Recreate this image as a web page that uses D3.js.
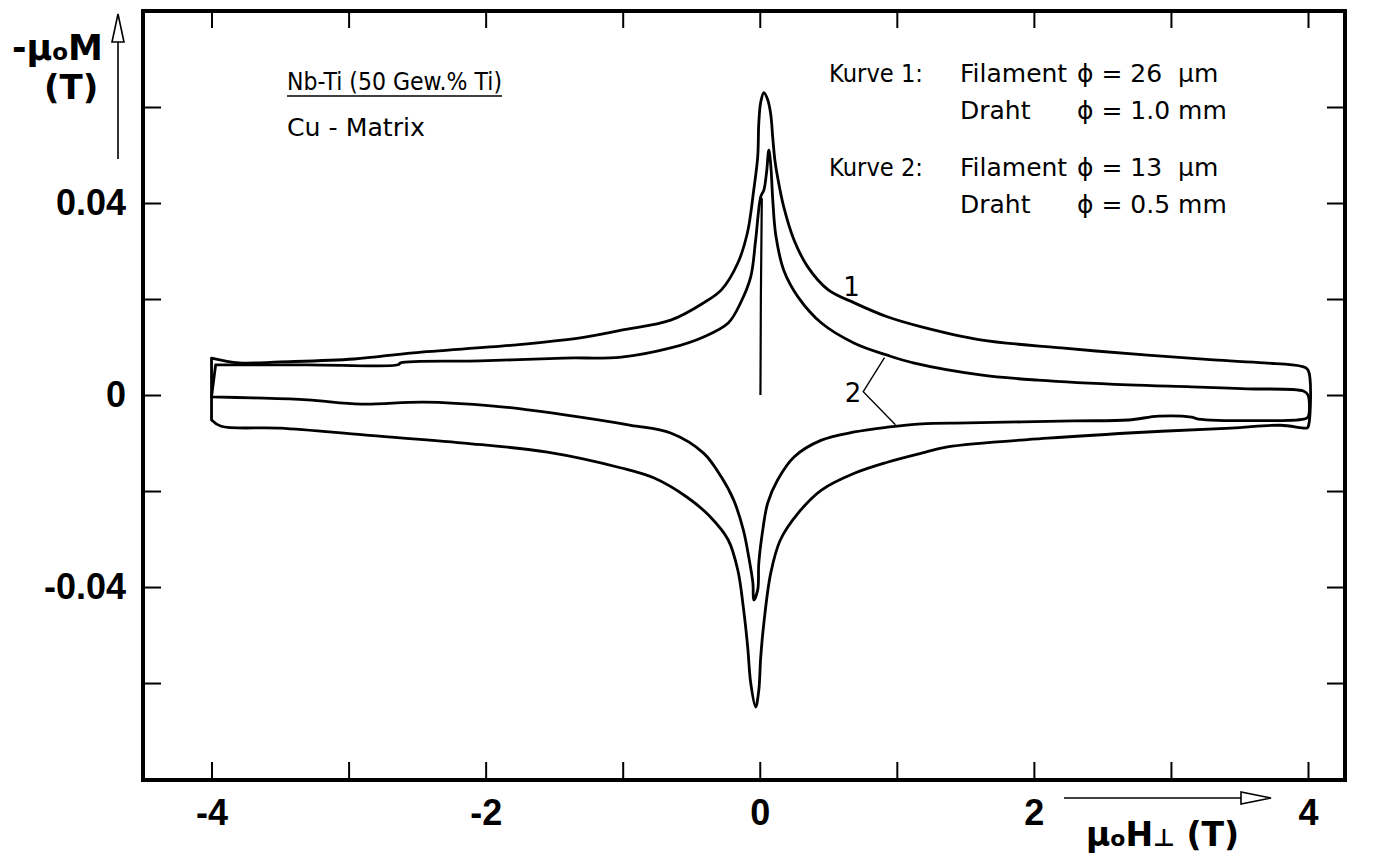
<!DOCTYPE html>
<html>
<head>
<meta charset="utf-8">
<script src="https://cdn.jsdelivr.net/npm/d3@7"></script>
<style>
body { margin: 0; background: #fff; }
svg { display: block; font-family: "DejaVu Sans", sans-serif; }
text { white-space: pre; }
</style>
</head>
<body>
<script>
// Magnetisation loops, values: [mu0H (T), -mu0M (T)]
var curve1Upper = [[-4.0, 0.0077], [-3.8, 0.0067], [-3.5, 0.0069], [-2.96, 0.0075], [-2.53, 0.0088], [-1.8, 0.0104],
  [-1.31, 0.0119], [-1.01, 0.0135], [-0.65, 0.0156], [-0.41, 0.0192], [-0.28, 0.0219], [-0.16, 0.0275],
  [-0.09, 0.0338], [-0.044, 0.0427], [-0.015, 0.0496], [-0.007, 0.0567], [0.007, 0.061], [0.03, 0.063],
  [0.058, 0.0615], [0.08, 0.0585], [0.095, 0.0535], [0.11, 0.049], [0.13, 0.0454], [0.175, 0.0392],
  [0.25, 0.0323], [0.35, 0.0267], [0.5, 0.0219], [0.69, 0.0192], [0.93, 0.0163], [1.18, 0.0142],
  [1.61, 0.0115], [2.2, 0.0098], [2.83, 0.0083], [3.31, 0.0073], [3.68, 0.0067], [3.95, 0.006], [4.0, 0.0052]];

var curve1Lower = [[-4.0, -0.0052], [-3.93, -0.0065], [-3.5, -0.0069], [-2.89, -0.0083], [-2.16, -0.01],
  [-1.55, -0.0119], [-1.01, -0.0152], [-0.77, -0.0173], [-0.53, -0.0213], [-0.36, -0.0254], [-0.23, -0.0302],
  [-0.16, -0.0365], [-0.12, -0.0442], [-0.088, -0.0525], [-0.066, -0.06], [-0.03, -0.065], [-0.007, -0.0615],
  [0.007, -0.0546], [0.03, -0.0475], [0.08, -0.0371], [0.15, -0.0302], [0.28, -0.0246], [0.45, -0.0198],
  [0.69, -0.0163], [0.93, -0.014], [1.18, -0.0121], [1.37, -0.0108], [2.1, -0.009], [2.83, -0.0077],
  [3.44, -0.0069], [3.8, -0.0063], [3.99, -0.0069], [4.0, -0.0067]];

var curve2Upper = [[-3.97, 0.0063], [-3.3, 0.0063], [-2.64, 0.0063], [-2.62, 0.0067], [-2.04, 0.0071],
  [-1.43, 0.0077], [-1.01, 0.0079], [-0.65, 0.0098], [-0.41, 0.0121], [-0.23, 0.015], [-0.14, 0.0192],
  [-0.066, 0.0246], [-0.03, 0.0323], [0.007, 0.0413], [0.03, 0.0427], [0.05, 0.0465], [0.066, 0.051],
  [0.08, 0.048], [0.095, 0.0406], [0.117, 0.0333], [0.175, 0.026], [0.28, 0.0204], [0.45, 0.015],
  [0.69, 0.0108], [0.93, 0.0083], [1.12, 0.0067], [1.61, 0.0042], [2.03, 0.0031], [2.69, 0.0021],
  [3.15, 0.0017], [3.56, 0.0013], [3.97, 0.0008], [4.0, 0.0]];

var curve2Lower = [[-4.0, -0.0004], [-3.7, -0.0006], [-3.3, -0.001], [-2.91, -0.0019], [-2.45, -0.0015],
  [-1.94, -0.0023], [-1.69, -0.0031], [-1.31, -0.0046], [-0.94, -0.0063], [-0.65, -0.0079], [-0.41, -0.0121],
  [-0.28, -0.0171], [-0.19, -0.0219], [-0.12, -0.0281], [-0.08, -0.0338], [-0.05, -0.0392], [-0.044, -0.0427],
  [-0.015, -0.0406], [-0.007, -0.035], [0.022, -0.0281], [0.058, -0.0225], [0.13, -0.0177], [0.25, -0.0129],
  [0.45, -0.0094], [0.69, -0.0077], [0.93, -0.0067], [1.18, -0.006], [1.52, -0.0058], [2.29, -0.0054],
  [2.69, -0.0052], [2.91, -0.0044], [3.15, -0.0046], [3.2, -0.005], [3.97, -0.005], [4.0, -0.0046]];

// initial (virgin) curve starting at zero field
var virginCurve = [[0.005, 0], [0.008, 0.02], [0.015, 0.041]];

var xTickValues = [-4, -3, -2, -1, 0, 1, 2, 3, 4];
var xTickLabels = [-4, -2, 0, 2, 4];
var yTickValues = [-0.06, -0.04, -0.02, 0, 0.02, 0.04, 0.06];
var yTickLabels = [-0.04, 0, 0.04];

var legendRows = [
  ["Kurve 1:", "Filament", "\u03d5 = 26  \u00b5m"],
  ["", "Draht", "\u03d5 = 1.0 mm"],
  ["Kurve 2:", "Filament", "\u03d5 = 13  \u00b5m"],
  ["", "Draht", "\u03d5 = 0.5 mm"]
];

// Set up size
var width = 1385;
var height = 857;
var margin = {top: 11, right: 40, bottom: 77, left: 143};

var x = d3.scaleLinear()
.domain([-4.5, 4.27])
.range([margin.left, width - margin.right]);

var y = d3.scaleLinear()
.domain([-0.0802, 0.08])
.range([height - margin.bottom, margin.top]);

var svg = d3.select('body').append('svg')
.attr('width', width)
.attr('height', height);

var line = d3.line()
.x(function(d) { return x(d[0]); })
.y(function(d) { return y(d[1]); });

var smoothLine = d3.line()
.curve(d3.curveCatmullRom.alpha(0.5))
.x(function(d) { return x(d[0]); })
.y(function(d) { return y(d[1]); });

// axes, ticks point inwards
function styleAxis(g) {
  g.select('.domain').remove();
  g.selectAll('.tick line').attr('stroke', '#000').attr('stroke-width', 2);
  g.selectAll('.tick text')
  .attr('fill', '#000')
  .style('font-size', '36px')
  .style('font-weight', 'bold');
}

svg.append('g')
.attr('transform', 'translate(0,' + y.range()[0] + ')')
.call(d3.axisBottom(x).tickValues(xTickValues).tickSize(-18).tickSizeOuter(0).tickPadding(19)
  .tickFormat(function(d) { return xTickLabels.indexOf(d) >= 0 ? String(d) : ''; }))
.call(styleAxis);

svg.append('g')
.attr('transform', 'translate(0,' + y.range()[1] + ')')
.call(d3.axisTop(x).tickValues(xTickValues).tickSize(-17).tickSizeOuter(0).tickFormat(''))
.call(styleAxis);

svg.append('g')
.attr('transform', 'translate(' + x.range()[0] + ',0)')
.call(d3.axisLeft(y).tickValues(yTickValues).tickSize(-18).tickSizeOuter(0).tickPadding(17)
  .tickFormat(function(d) { return yTickLabels.indexOf(d) >= 0 ? String(d) : ''; }))
.call(styleAxis);

svg.append('g')
.attr('transform', 'translate(' + x.range()[1] + ',0)')
.call(d3.axisRight(y).tickValues(yTickValues).tickSize(-18).tickSizeOuter(0).tickFormat(''))
.call(styleAxis);

svg.append('rect')
.attr('x', x.range()[0])
.attr('y', y.range()[1])
.attr('width', x.range()[1] - x.range()[0])
.attr('height', y.range()[0] - y.range()[1])
.attr('fill', 'none')
.attr('stroke', '#000')
.attr('stroke-width', 4);

// loops: upper branch left to right, lower branch back, closed at +-4 T
var loops = [
  curve1Upper.concat(curve1Lower.slice().reverse()),
  curve2Upper.concat(curve2Lower.slice().reverse())
];

svg.selectAll('path.loop')
.data(loops)
.enter().append('path')
.attr('class', 'loop')
.attr('d', function(d) { return smoothLine(d) + 'Z'; })
.attr('fill', 'none')
.attr('stroke', '#000')
.attr('stroke-width', 2.8)
.attr('stroke-linejoin', 'round');

svg.append('path')
.attr('d', line(virginCurve))
.attr('fill', 'none')
.attr('stroke', '#000')
.attr('stroke-width', 2.2);

// curve labels
svg.append('text')
.attr('x', x(0.67)).attr('y', y(0.0225))
.attr('dy', '0.35em')
.attr('text-anchor', 'middle')
.style('font-size', '26px')
.text('1');

svg.append('text')
.attr('x', x(0.68)).attr('y', y(0.0005))
.attr('dy', '0.35em')
.attr('text-anchor', 'middle')
.style('font-size', '26px')
.text('2');

svg.append('path')
.attr('d', line([[0.91, 0.0078], [0.755, 0.0007], [0.99, -0.0062]]))
.attr('fill', 'none')
.attr('stroke', '#000')
.attr('stroke-width', 1.4);

// sample description
svg.append('text')
.attr('x', 287).attr('y', 90)
.style('font-size', '24px')
.attr('textLength', 215)
.attr('lengthAdjust', 'spacingAndGlyphs')
.text('Nb-Ti (50 Gew.% Ti)');
svg.append('line')
.attr('x1', 287).attr('x2', 287 + 215)
.attr('y1', 96).attr('y2', 96)
.attr('stroke', '#000').attr('stroke-width', 1.4);

svg.append('text')
.attr('x', 287).attr('y', 136)
.style('font-size', '25px')
.attr('textLength', 138)
.attr('lengthAdjust', 'spacingAndGlyphs')
.text('Cu - Matrix');

// legend
var rowY = [82, 119, 176, 213];
var colX = [829, 960, 1077];
legendRows.forEach(function(row, i) {
  row.forEach(function(t, j) {
    var tx = svg.append('text')
    .attr('x', colX[j]).attr('y', rowY[i])
    .style('font-size', '25px')
    .text(t);
    if (j === 0 && t) {
      tx.attr('textLength', 94).attr('lengthAdjust', 'spacingAndGlyphs');
    }
  });
});

// axis titles with arrows
var yt = svg.append('text')
.attr('x', 12).attr('y', 60)
.style('font-size', '35px')
.style('font-weight', 'bold');
yt.append('tspan').text('-\u00b5');
yt.append('tspan').style('font-size', '23px').text('o');
yt.append('tspan').text('M');

svg.append('text')
.attr('x', 44).attr('y', 99)
.style('font-size', '34px')
.style('font-weight', 'bold')
.text('(T)');

svg.append('line')
.attr('x1', 118).attr('x2', 118)
.attr('y1', 159).attr('y2', 42)
.attr('stroke', '#000').attr('stroke-width', 1.6);
svg.append('path')
.attr('d', 'M118,14L112,42L124,42Z')
.attr('fill', '#fff').attr('stroke', '#000').attr('stroke-width', 1.6);

svg.append('line')
.attr('x1', 1064).attr('x2', 1241)
.attr('y1', 798).attr('y2', 798)
.attr('stroke', '#000').attr('stroke-width', 1.6);
svg.append('path')
.attr('d', 'M1271,798L1241,792L1241,804Z')
.attr('fill', '#fff').attr('stroke', '#000').attr('stroke-width', 1.6);

var xt = svg.append('text')
.attr('x', 1086).attr('y', 846)
.style('font-size', '33px')
.style('font-weight', 'bold');
xt.append('tspan').text('\u00b5');
xt.append('tspan').style('font-size', '22px').text('o');
xt.append('tspan').text('H');
xt.append('tspan').style('font-size', '24px').text('\u22a5');
xt.append('tspan').text(' (T)');
</script>
</body>
</html>
